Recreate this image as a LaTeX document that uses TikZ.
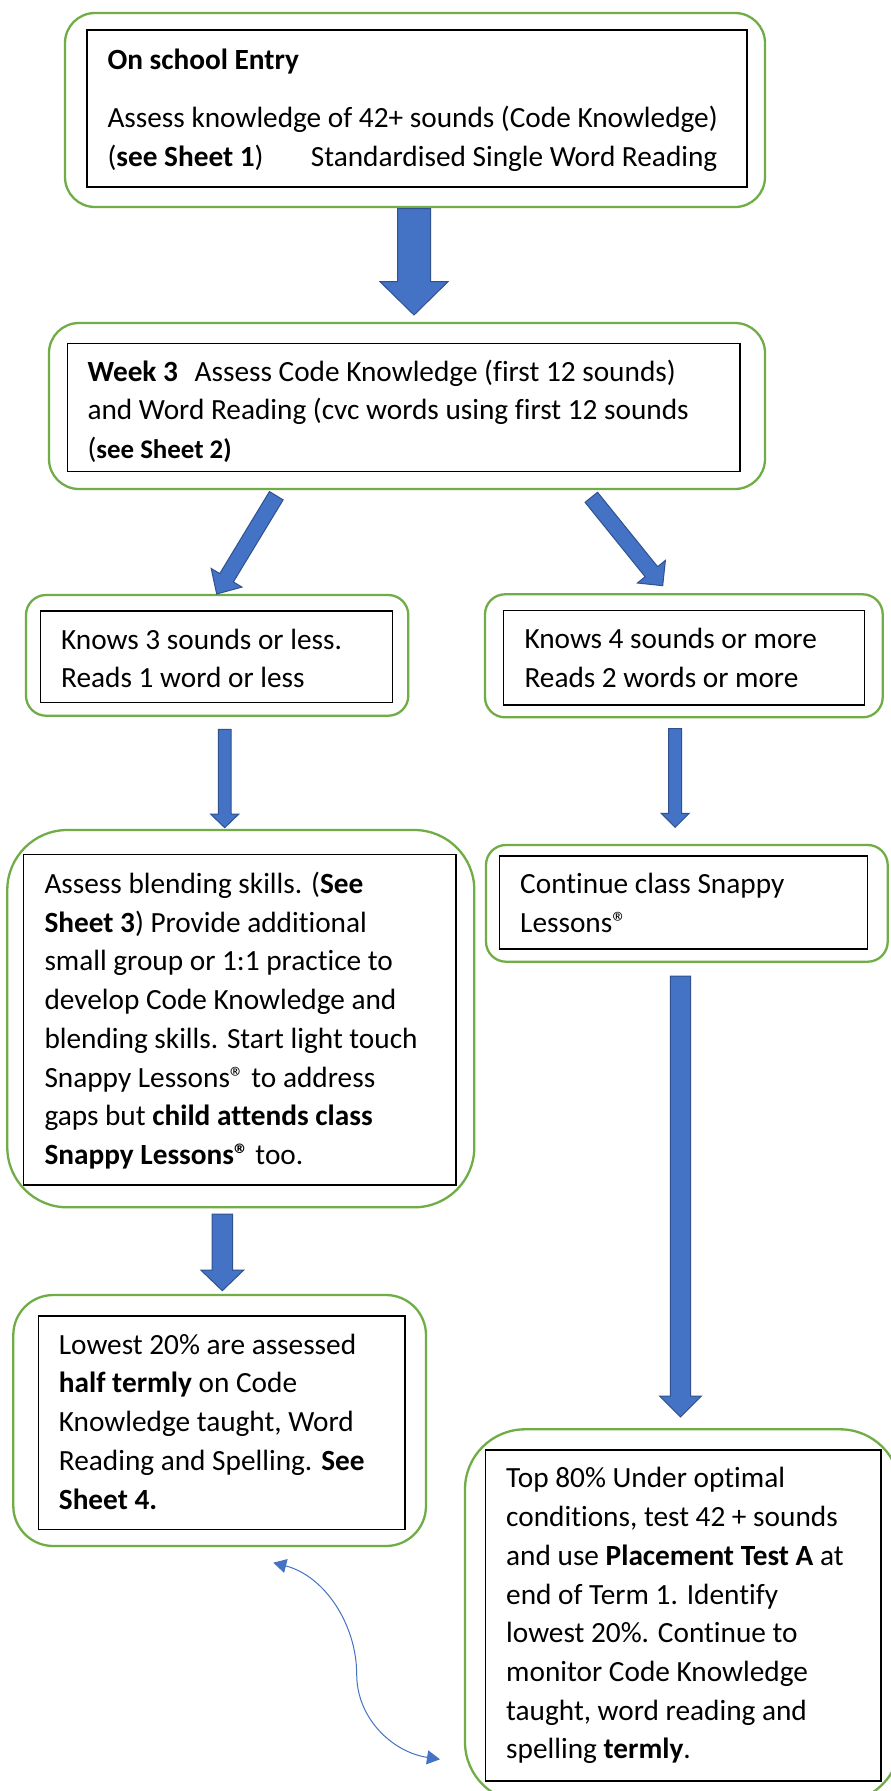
\documentclass[tikz,border=0pt]{standalone}
\usepackage{fontspec}
\setmainfont{Carlito}[RawFeature={-liga;-clig;-dlig}]
\usetikzlibrary{calc,arrows.meta}
\definecolor{boxgreen}{HTML}{70AD47}
\definecolor{arrowblue}{HTML}{4472C4}
\definecolor{arrowedge}{HTML}{2F528F}
\newcommand{\regmark}{®}
% #1 tail, #2 tip, #3 shaft half width, #4 head half width, #5 head length
\newcommand{\blockarrow}[5]{%
  \path ($(#2)!#5!(#1)$) coordinate (bahead);
  \draw[blockarrowstyle]
    ($(#1)!#3!90:(#2)$) -- ($(bahead)!#3!90:(#2)$) -- ($(bahead)!#4!90:(#2)$)
    -- (#2)
    -- ($(bahead)!#4!-90:(#2)$) -- ($(bahead)!#3!-90:(#2)$) -- ($(#1)!#3!-90:(#2)$) -- cycle;
}
\begin{document}
\begin{tikzpicture}[x=1pt,y=-1pt,
  outerbox/.style={draw=boxgreen, line width=2.3pt, rounded corners=#1, inner sep=0pt},
  innerbox/.style={draw=black, line width=1.1pt, inner sep=0pt},
  txt/.style={anchor=north west, inner sep=0pt, align=left, font=\fontsize{29.3}{38.7}\selectfont},
  blockarrowstyle/.style={fill=arrowblue, draw=arrowedge, line width=1pt, line join=miter},
  thinarrow/.style={draw=arrowblue, line width=1pt}]
\useasboundingbox (0,0) rectangle (891,1791);
\clip (0,0) rectangle (891,1791);
\fill[white] (0,0) rectangle (891,1791);

% Box 1
\node[outerbox=30pt, minimum width=700pt, minimum height=194pt] (o1) at (415,110) {};
\node[innerbox, minimum width=660pt, minimum height=157pt] (i1) at (417,108.5) {};
\node[txt] (t1) at (107.3,41.9) {\strut\textbf{On school Entry}\\[20pt]Assess knowledge of 42+ sounds (Code Knowledge)\\\makebox[203.4pt][l]{(\textbf{see Sheet 1})}Standardised Single Word Reading};

% Box 2
\node[outerbox=30pt, minimum width=716pt, minimum height=166pt] (o2) at (407,406) {};
\node[innerbox, minimum width=672.7pt, minimum height=128.4pt] (i2) at (403.65,407.5) {};
\node[txt] (t2) at (87.3,353.9) {\strut\textbf{Week 3}\hspace{16.6pt}Assess Code Knowledge (first 12 sounds)\\and Word Reading (cvc words using first 12 sounds\\({\fontsize{26.9}{38.7}\selectfont\textbf{see Sheet 2)}}};

% Box 3 left
\node[outerbox=20pt, minimum width=382.3pt, minimum height=120.7pt] (o3l) at (217.15,655.35) {};
\node[innerbox, minimum width=352.4pt, minimum height=91.3pt] (i3l) at (216.5,656.65) {};
\node[txt] (t3l) at (61,621.9) {\strut Knows 3 sounds or less.\\Reads 1 word or less};

% Box 3 right
\node[outerbox=20pt, minimum width=397.7pt, minimum height=123pt] (o3r) at (683.85,655.8) {};
\node[innerbox, minimum width=361pt, minimum height=94.7pt] (i3r) at (683.8,657.65) {};
\node[txt] (t3r) at (524.3,621.2) {\strut Knows 4 sounds or more\\Reads 2 words or more};

% Box 4 left
\node[outerbox=60pt, minimum width=467pt, minimum height=377.3pt] (o4l) at (240.8,1018.65) {};
\node[innerbox, minimum width=432.7pt, minimum height=330.7pt] (i4l) at (239.65,1019.65) {};
\node[txt] (t4l) at (44.3,866.2) {\strut Assess blending skills. (\textbf{See}\\\textbf{Sheet 3}) Provide additional\\small group or 1:1 practice to\\develop Code Knowledge and\\blending skills. Start light touch\\Snappy Lessons\regmark{} to address\\gaps but \textbf{child attends class}\\\textbf{Snappy Lessons\regmark} too.};

% Box 4 right
\node[outerbox=20pt, minimum width=401.7pt, minimum height=116.7pt] (o4r) at (686.85,903.35) {};
\node[innerbox, minimum width=368pt, minimum height=93pt] (i4r) at (683.7,902.5) {};
\node[txt] (t4r) at (520,866.2) {\strut Continue class Snappy\\Lessons\regmark};

% Box 5 left
\node[outerbox=40pt, minimum width=412.7pt, minimum height=251pt] (o5l) at (219.65,1420.5) {};
\node[innerbox, minimum width=366.3pt, minimum height=213.3pt] (i5l) at (221.85,1422.65) {};
\node[txt] (t5l) at (58.7,1326.9) {\strut Lowest 20\% are assessed\\\textbf{half termly} on Code\\Knowledge taught, Word\\Reading and Spelling. \textbf{See}\\\textbf{Sheet 4.}};

% Box 5 right
\node[outerbox=60pt, minimum width=435pt, minimum height=372.7pt] (o5r) at (682.5,1615.65) {};
\node[innerbox, minimum width=395.7pt, minimum height=331pt] (i5r) at (683.15,1615.5) {};
\node[txt] (t5r) at (506,1460.6) {\strut Top 80\% Under optimal\\conditions, test 42 + sounds\\and use \textbf{Placement Test A} at\\end of Term 1. Identify\\lowest 20\%. Continue to\\monitor Code Knowledge\\taught, word reading and\\spelling \textbf{termly}.};

% Block arrows
\coordinate (a1s) at (414,208.5);   \coordinate (a1e) at (414,315);
\blockarrow{a1s}{a1e}{16.5pt}{34pt}{33.3pt}
\coordinate (al1s) at (276.3,495.7); \coordinate (al1e) at (216.7,594);
\blockarrow{al1s}{al1e}{8pt}{18pt}{19pt}
\coordinate (ar1s) at (591.3,497.3); \coordinate (ar1e) at (662.7,585.7);
\blockarrow{ar1s}{ar1e}{8pt}{18pt}{18pt}
\coordinate (al2s) at (224.7,729.3); \coordinate (al2e) at (224.7,827.7);
\blockarrow{al2s}{al2e}{6.4pt}{14pt}{13.5pt}
\coordinate (ar2s) at (675.2,728.7); \coordinate (ar2e) at (675.2,827.3);
\blockarrow{ar2s}{ar2e}{6.5pt}{14pt}{14pt}
\coordinate (al3s) at (222.3,1214); \coordinate (al3e) at (222.3,1290.7);
\blockarrow{al3s}{al3e}{10.3pt}{21.5pt}{20.7pt}
\coordinate (ar3s) at (680.5,976); \coordinate (ar3e) at (680.5,1417);
\blockarrow{ar3s}{ar3e}{10.2pt}{21pt}{21pt}

% Curved double arrow
\coordinate (ca1) at (273.3,1562.7);
\coordinate (camid) at (356.7,1674.3);
\coordinate (ca2) at (440,1759.3);
\draw[thinarrow, {Triangle[length=13pt,width=14pt]}-{Triangle[length=13pt,width=14pt]}]
  (ca1) .. controls (325,1576) and (356.7,1625) .. (camid)
  .. controls (356.7,1718) and (392,1752) .. (ca2);
\end{tikzpicture}
\end{document}
